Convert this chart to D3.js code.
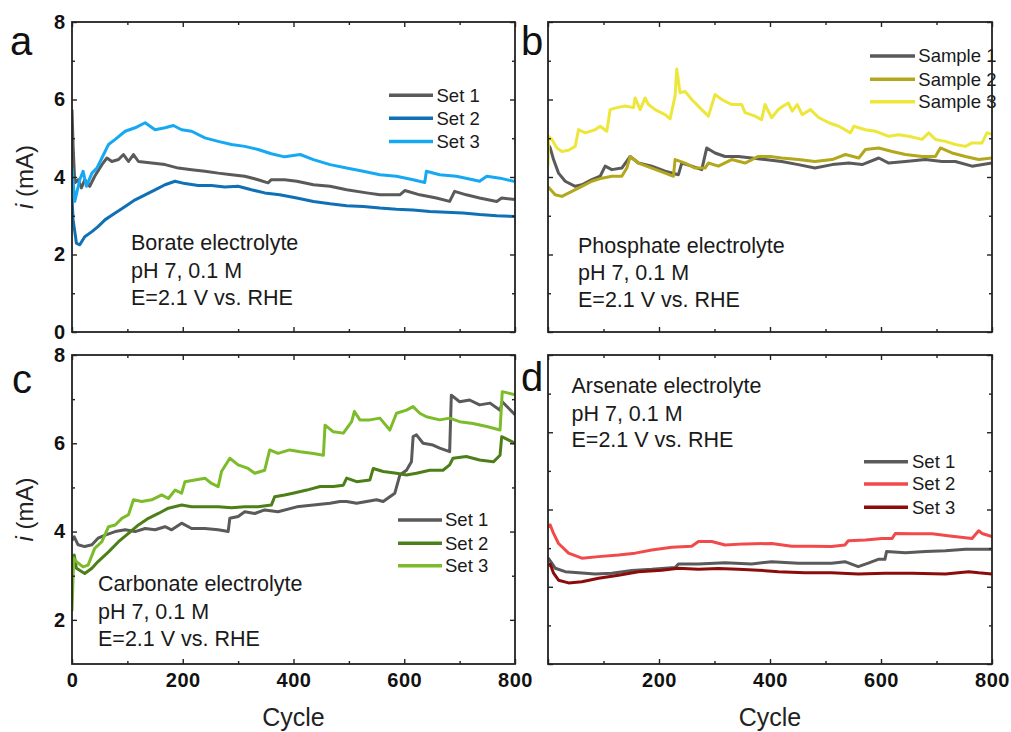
<!DOCTYPE html>
<html>
<head>
<meta charset="utf-8">
<script src="https://cdn.jsdelivr.net/npm/d3@7"></script>
<style>
html,body{margin:0;padding:0;background:#fff;}
svg{display:block;}
</style>
</head>
<body>
<svg id="chart" width="1011" height="732"></svg>
<script>
// ---------------- DATA ----------------
const xTickMajor = [0, 200, 400, 600, 800];
const xTickMinor = [100, 300, 500, 700];
const xLabelsC = [0, 200, 400, 600, 800];
const xLabelsD = [200, 400, 600, 800];
const yLabelsA = [0, 2, 4, 6, 8];
const yLabelsC = [2, 4, 6, 8];

// Panel a – Borate
const aSet1Cycle = [0,2,5,11,17,23,32,41,54,63,72,84,93,102,111,120,144,168,192,216,240,264,288,312,336,354,360,384,406,436,466,496,532,556,592,601,628,658,682,691,712,736,767,776,800];
const aSet1Current = [5.74,4.79,3.85,3.93,3.72,3.93,3.76,4.02,4.32,4.49,4.40,4.45,4.58,4.40,4.58,4.40,4.36,4.32,4.23,4.19,4.15,4.10,4.06,4.02,3.93,3.85,3.93,3.93,3.89,3.80,3.76,3.67,3.59,3.54,3.54,3.65,3.54,3.46,3.37,3.63,3.54,3.46,3.37,3.46,3.42];
const aSet2Cycle = [0,2,8,14,23,36,47,60,78,96,114,132,150,168,186,204,228,252,276,300,324,348,375,406,436,466,496,526,556,586,616,646,676,706,736,767,800];
const aSet2Current = [3.45,2.90,2.29,2.25,2.46,2.59,2.72,2.90,3.07,3.24,3.41,3.54,3.67,3.80,3.89,3.83,3.78,3.78,3.74,3.76,3.67,3.59,3.54,3.46,3.37,3.31,3.26,3.24,3.20,3.17,3.15,3.11,3.09,3.07,3.03,3.00,2.98];
const aSet3Cycle = [0,5,14,20,26,36,45,54,66,78,96,114,132,150,168,183,198,216,240,264,288,312,336,360,384,412,436,466,496,526,556,586,616,637,640,664,694,724,736,749,773,800];
const aSet3Current = [4.23,3.37,3.93,4.15,3.76,4.10,4.23,4.49,4.84,4.97,5.18,5.27,5.40,5.22,5.27,5.33,5.22,5.18,5.01,4.92,4.84,4.79,4.71,4.60,4.52,4.58,4.45,4.32,4.23,4.15,4.06,4.02,3.93,3.86,4.15,4.06,4.02,3.93,3.89,4.02,3.97,3.88];

// Panel b – Phosphate
const bS1Cycle = [0,4,10,19,31,49,61,79,94,103,115,133,148,163,187,211,235,241,259,277,286,301,319,343,367,391,421,451,481,512,542,566,596,614,644,680,710,734,764,800];
const bS1Current = [4.85,4.75,4.45,4.10,3.89,3.76,3.80,3.93,4.02,4.28,4.19,4.23,4.53,4.36,4.28,4.15,4.06,4.36,4.28,4.19,4.75,4.62,4.53,4.53,4.49,4.45,4.40,4.32,4.23,4.32,4.36,4.32,4.49,4.36,4.40,4.45,4.40,4.40,4.28,4.36];
const bS2Cycle = [0,13,25,43,61,79,97,115,133,142,148,163,187,211,226,229,247,265,283,289,307,331,355,379,400,421,451,481,512,536,560,572,596,620,644,674,698,707,728,752,776,800];
const bS2Current = [3.75,3.54,3.50,3.63,3.76,3.89,3.97,4.02,4.02,4.23,4.53,4.36,4.23,4.10,4.02,4.45,4.36,4.23,4.23,4.36,4.28,4.45,4.36,4.53,4.53,4.49,4.45,4.40,4.45,4.58,4.49,4.71,4.75,4.66,4.58,4.53,4.53,4.75,4.62,4.53,4.45,4.49];
const bS3Cycle = [0,1,7,16,25,37,49,55,67,85,94,106,112,124,139,154,157,166,175,181,193,211,220,229,232,238,247,259,277,289,301,313,331,349,355,373,385,391,403,415,424,433,440,449,458,473,488,506,524,545,551,572,590,614,632,650,674,686,698,716,734,752,764,782,791,800];
const bS3Current = [4.3,5.05,4.97,4.75,4.66,4.69,4.79,5.22,5.14,5.22,5.31,5.18,5.74,5.79,5.83,5.79,6.04,5.74,6.04,5.87,5.74,5.61,5.50,6.09,6.79,6.17,6.21,6.00,5.74,5.57,6.13,6.00,5.87,5.87,5.66,5.57,5.48,5.87,5.53,5.74,5.83,5.91,5.70,5.87,5.61,5.74,5.53,5.40,5.31,5.14,5.31,5.22,5.18,5.05,5.09,5.05,4.97,5.14,4.97,4.92,4.84,4.79,4.88,4.88,5.14,5.1];

// Panel c – Carbonate
const cSet1Cycle = [0,4,11,23,36,47,60,78,96,114,132,150,168,180,198,216,240,264,282,285,300,312,330,348,372,406,436,466,484,496,514,532,550,562,574,583,592,604,613,616,622,634,652,664,682,685,700,718,736,755,773,777,800];
const cSet1Current = [3.80,3.88,3.70,3.66,3.70,3.85,3.92,4.00,4.04,4.00,4.07,4.04,4.11,4.04,4.19,4.07,4.07,4.04,4.00,4.30,4.34,4.45,4.41,4.49,4.45,4.56,4.60,4.64,4.68,4.68,4.64,4.68,4.72,4.68,4.79,4.87,5.28,5.39,5.58,6.15,6.19,6.00,5.96,5.89,5.81,7.09,6.94,6.98,6.87,6.91,6.75,6.94,6.65];
const cSet2Cycle = [0,4,8,23,36,47,66,84,102,120,138,156,174,198,216,240,264,288,312,336,360,366,384,399,424,448,472,490,496,514,538,544,562,586,604,622,646,670,682,688,712,736,761,773,776,800];
const cSet2Current = [3.40,3.47,3.17,3.05,3.17,3.32,3.54,3.77,3.96,4.15,4.30,4.41,4.53,4.60,4.56,4.56,4.56,4.54,4.56,4.56,4.60,4.79,4.83,4.87,4.94,5.02,5.02,5.05,5.21,5.13,5.17,5.43,5.36,5.32,5.28,5.32,5.39,5.39,5.51,5.66,5.70,5.62,5.58,5.73,6.15,6.00];
const cSet3Cycle = [0,3,8,20,29,41,54,66,78,90,102,111,126,144,162,174,186,198,204,222,240,252,264,270,285,300,318,330,348,357,372,393,412,436,454,457,472,490,505,510,520,538,556,574,586,604,616,628,640,664,682,700,724,749,773,777,800];
const cSet3Current = [2.20,3.40,3.32,3.20,3.24,3.62,3.77,4.11,4.15,4.30,4.38,4.72,4.68,4.72,4.83,4.75,4.94,4.87,5.13,5.17,5.21,5.09,5.02,5.36,5.66,5.51,5.43,5.32,5.39,5.85,5.77,5.85,5.81,5.77,5.73,6.41,6.26,6.23,6.49,6.72,6.53,6.53,6.57,6.30,6.68,6.75,6.83,6.68,6.60,6.53,6.57,6.49,6.45,6.38,6.30,7.17,7.10];

// Panel d – Arsenate
const dSet1Cycle = [0,4,13,31,55,85,115,151,187,229,235,271,319,367,403,451,511,535,559,577,595,607,610,644,680,716,752,800];
const dSet1Current = [2.75,2.67,2.48,2.39,2.36,2.33,2.35,2.42,2.45,2.50,2.59,2.59,2.62,2.59,2.65,2.61,2.61,2.65,2.52,2.61,2.71,2.71,2.91,2.88,2.91,2.93,2.97,2.97];
const dSet2Cycle = [0,4,10,19,37,61,91,127,157,187,223,259,271,295,319,355,403,439,475,511,535,541,572,602,620,626,656,692,728,764,776,782,800];
const dSet2Current = [3.55,3.60,3.38,3.12,2.87,2.74,2.78,2.82,2.87,2.95,3.02,3.05,3.17,3.17,3.08,3.11,3.12,3.05,3.05,3.04,3.08,3.19,3.21,3.25,3.25,3.38,3.37,3.37,3.31,3.25,3.45,3.38,3.30];
const dSet3Cycle = [0,4,10,19,37,61,91,127,163,205,235,271,307,343,379,415,463,511,559,607,656,716,758,776,800];
const dSet3Current = [2.55,2.59,2.35,2.17,2.10,2.13,2.22,2.30,2.39,2.43,2.48,2.45,2.47,2.45,2.43,2.39,2.36,2.36,2.33,2.35,2.35,2.33,2.39,2.36,2.33];

const setNames = ["Set 1", "Set 2", "Set 3"];
const sampleNames = ["Sample 1", "Sample 2", "Sample 3"];
const noteLinesA = ["Borate electrolyte", "pH 7, 0.1 M", "E=2.1 V vs. RHE"];
const noteLinesB = ["Phosphate electrolyte", "pH 7, 0.1 M", "E=2.1 V vs. RHE"];
const noteLinesC = ["Carbonate electrolyte", "pH 7, 0.1 M", "E=2.1 V vs. RHE"];
const noteLinesD = ["Arsenate electrolyte", "pH 7, 0.1 M", "E=2.1 V vs. RHE"];

// ---------------- DRAW ----------------
const FONT = "'Liberation Sans', Arial, sans-serif";
const svg = d3.select("#chart");

function zip(cs, vs) { return cs.map((c, i) => ({c: c, v: vs[i]})); }

const panels = [
  {id:"a", letter:"a", lx:10, ly:55, x0:72, x1:515, y0:22, y1:332, yDom:[0,8], yMajor:[0,2,4,6,8], yMinor:[1,3,5,7],
   yLabels:yLabelsA, xLabels:[],
   series:[zip(aSet1Cycle,aSet1Current), zip(aSet2Cycle,aSet2Current), zip(aSet3Cycle,aSet3Current)],
   colors:["#5a5a5a","#0f70b6","#16a9f1"], names:setNames,
   leg:{x0:389, x1:433, tx:436.5, ys:[95.3,118.3,141.5]},
   note:{x:131, ys:[250,277.5,305], lines:noteLinesA}},
  {id:"b", letter:"b", lx:521, ly:55, x0:548, x1:992, y0:22, y1:332, yDom:[0,8], yMajor:[0,2,4,6,8], yMinor:[1,3,5,7],
   yLabels:[], xLabels:[],
   series:[zip(bS1Cycle,bS1Current), zip(bS2Cycle,bS2Current), zip(bS3Cycle,bS3Current)],
   colors:["#5a5a5a","#b3a71b","#ede73c"], names:sampleNames,
   leg:{x0:870, x1:915, tx:918.3, ys:[56,79.3,101.7]},
   note:{x:578, ys:[253,280,307], lines:noteLinesB}},
  {id:"c", letter:"c", lx:12, ly:393, x0:72, x1:515, y0:355, y1:664, yDom:[1,8], yMajor:[2,4,6,8], yMinor:[3,5,7],
   yLabels:yLabelsC, xLabels:xLabelsC,
   series:[zip(cSet1Cycle,cSet1Current), zip(cSet2Cycle,cSet2Current), zip(cSet3Cycle,cSet3Current)],
   colors:["#5a5a5a","#4d7f19","#7cbb2a"], names:setNames,
   leg:{x0:398, x1:442, tx:445, ys:[520,543.3,565.7]},
   note:{x:98, ys:[591,619,646], lines:noteLinesC}},
  {id:"d", letter:"d", lx:521, ly:391, x0:548, x1:992, y0:355, y1:664, yDom:[0,8], yMajor:[0,2,4,6,8], yMinor:[1,3,5,7],
   yLabels:[], xLabels:xLabelsD,
   series:[zip(dSet1Cycle,dSet1Current), zip(dSet2Cycle,dSet2Current), zip(dSet3Cycle,dSet3Current)],
   colors:["#5a5a5a","#f24a4a","#8c0c0c"], names:setNames,
   leg:{x0:864, x1:908, tx:912, ys:[461.7,484,507.3]},
   note:{x:571.5, ys:[393.3,420.7,447.3], lines:noteLinesD}}
];

const MAJ = 5, MIN = 3;

panels.forEach(p => {
  const x = d3.scaleLinear().domain([0, 800]).range([p.x0, p.x1]);
  const y = d3.scaleLinear().domain(p.yDom).range([p.y1, p.y0]);
  const g = svg.append("g");

  svg.append("clipPath").attr("id", "clip-" + p.id)
    .append("rect").attr("x", p.x0).attr("y", p.y0).attr("width", p.x1 - p.x0).attr("height", p.y1 - p.y0);

  const line = d3.line().x(d => x(d.c)).y(d => y(d.v));
  const lg = g.append("g").attr("clip-path", "url(#clip-" + p.id + ")");
  p.series.forEach((s, i) => {
    lg.append("path").datum(s).attr("d", line)
      .attr("fill", "none").attr("stroke", p.colors[i]).attr("stroke-width", 3)
      .attr("stroke-linejoin", "round");
  });

  p.note.lines.forEach((t, i) => {
    g.append("text").attr("x", p.note.x).attr("y", p.note.ys[i]).text(t)
      .attr("font-family", FONT).attr("font-size", 21.5).attr("fill", "#1a1a1a");
  });

  p.names.forEach((n, i) => {
    g.append("line").attr("x1", p.leg.x0).attr("x2", p.leg.x1).attr("y1", p.leg.ys[i]).attr("y2", p.leg.ys[i])
      .attr("stroke", p.colors[i]).attr("stroke-width", 3.4);
    g.append("text").attr("x", p.leg.tx).attr("y", p.leg.ys[i]).attr("dy", "0.35em").text(n)
      .attr("font-family", FONT).attr("font-size", 18.5).attr("fill", "#1a1a1a");
  });

  const mk = (axisFn, scale, vals, size, fmt) => axisFn(scale).tickValues(vals).tickSizeInner(-size).tickSizeOuter(0).tickFormat(fmt);
  const noFmt = () => "";
  const styleAxis = sel => {
    sel.select(".domain").remove();
    sel.selectAll("line").attr("stroke", "#222").attr("stroke-width", 1.4);
  };

  const bMaj = g.append("g").attr("transform", `translate(0,${p.y1})`)
    .call(mk(d3.axisBottom, x, xTickMajor, MAJ, d => p.xLabels.includes(d) ? d : "").tickPadding(9));
  styleAxis(bMaj);
  bMaj.selectAll("text").attr("font-family", FONT).attr("font-size", 20).attr("font-weight", "bold")
    .attr("fill", "#111").attr("letter-spacing", 0.6);
  g.append("g").attr("transform", `translate(0,${p.y1})`).call(mk(d3.axisBottom, x, xTickMinor, MIN, noFmt)).call(styleAxis);
  g.append("g").attr("transform", `translate(0,${p.y0})`).call(mk(d3.axisTop, x, xTickMajor, MAJ, noFmt)).call(styleAxis);
  g.append("g").attr("transform", `translate(0,${p.y0})`).call(mk(d3.axisTop, x, xTickMinor, MIN, noFmt)).call(styleAxis);
  const lMaj = g.append("g").attr("transform", `translate(${p.x0},0)`)
    .call(mk(d3.axisLeft, y, p.yMajor, MAJ, d => p.yLabels.includes(d) ? d : "").tickPadding(7));
  styleAxis(lMaj);
  lMaj.selectAll("text").attr("font-family", FONT).attr("font-size", 20).attr("font-weight", "bold").attr("fill", "#111");
  g.append("g").attr("transform", `translate(${p.x0},0)`).call(mk(d3.axisLeft, y, p.yMinor, MIN, noFmt)).call(styleAxis);
  g.append("g").attr("transform", `translate(${p.x1},0)`).call(mk(d3.axisRight, y, p.yMajor, MAJ, noFmt)).call(styleAxis);
  g.append("g").attr("transform", `translate(${p.x1},0)`).call(mk(d3.axisRight, y, p.yMinor, MIN, noFmt)).call(styleAxis);

  g.append("rect").attr("x", p.x0).attr("y", p.y0).attr("width", p.x1 - p.x0).attr("height", p.y1 - p.y0)
    .attr("fill", "none").attr("stroke", "#222").attr("stroke-width", 1.8);

  svg.append("text").attr("x", p.lx).attr("y", p.ly).text(p.letter)
    .attr("font-family", FONT).attr("font-size", 40).attr("fill", "#111");
});

[{cy:(22+332)/2},{cy:(355+664)/2}].forEach(o => {
  const t = svg.append("text").attr("transform", `translate(33,${o.cy}) rotate(-90)`)
    .attr("text-anchor", "middle").attr("font-family", FONT).attr("font-size", 24).attr("fill", "#222");
  t.append("tspan").attr("font-style", "italic").text("i");
  t.append("tspan").text(" (mA)");
});

[(72+515)/2, (548+992)/2].forEach(cx => {
  svg.append("text").attr("x", cx).attr("y", 726).attr("text-anchor", "middle")
    .attr("font-family", FONT).attr("font-size", 25).attr("fill", "#222").text("Cycle");
});
</script>
</body>
</html>
